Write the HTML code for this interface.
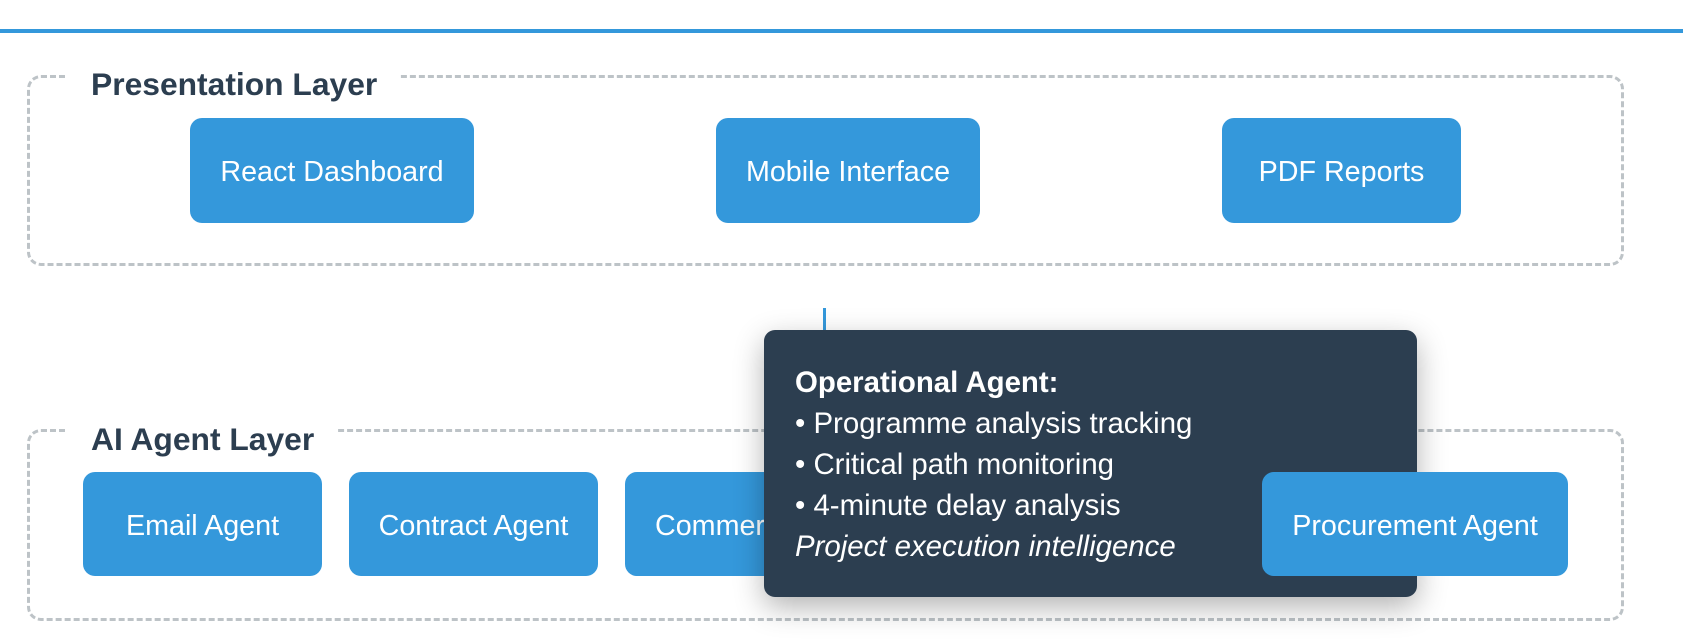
<!DOCTYPE html>
<html><head><meta charset="utf-8"><style>
body{margin:0;width:1683px;height:642px;background:#fff;position:relative;overflow:hidden;font-family:"Liberation Sans",Arial,sans-serif}
.a{position:absolute}
.layer{position:absolute;border:3px dashed #bdc3c7;border-radius:14px;box-sizing:border-box}
.title{position:absolute;background:#fff;color:#2c3e50;font-weight:bold;font-size:31.8px;line-height:36px;padding:0 22px 0 26px}
.box{position:absolute;background:#3498db;color:#fff;border-radius:12px;display:flex;align-items:center;justify-content:center;font-size:28.7px;white-space:nowrap;overflow:hidden;padding-top:4px;box-sizing:border-box}
.tip{position:absolute;left:764px;top:330px;width:653px;height:267px;background:#2c3e50;border-radius:11px;box-shadow:0 10px 30px rgba(0,0,0,0.3);color:#fff;font-size:29.4px;box-sizing:border-box}
.tip div{position:absolute;left:31px;white-space:nowrap}
</style></head><body>
<div class="a" style="left:0;top:29px;width:1683px;height:4px;background:#3498db"></div>

<div class="layer" style="left:27px;top:75px;width:1597px;height:191px"></div>
<div class="title" style="left:65px;top:66px">Presentation Layer</div>
<div class="box" style="left:190px;top:118px;width:284px;height:105px">React Dashboard</div>
<div class="box" style="left:716px;top:118px;width:264px;height:105px">Mobile Interface</div>
<div class="box" style="left:1222px;top:118px;width:239px;height:105px">PDF Reports</div>

<div class="a" style="left:823px;top:308px;width:3px;height:25px;background:#3498db"></div>

<div class="layer" style="left:27px;top:429px;width:1597px;height:192px"></div>
<div class="title" style="left:65px;top:421px">AI Agent Layer</div>
<div class="box" style="left:83px;top:472px;width:239px;height:104px">Email Agent</div>
<div class="box" style="left:349px;top:472px;width:249px;height:104px">Contract Agent</div>
<div class="box" style="left:625px;top:472px;width:260px;height:104px;justify-content:flex-start;padding-left:30px">Commercial Agent</div>

<div class="tip">
<div style="top:36px;font-weight:bold">Operational Agent:</div>
<div style="top:77px">• Programme analysis tracking</div>
<div style="top:118px">• Critical path monitoring</div>
<div style="top:159px">• 4-minute delay analysis</div>
<div style="top:200px;font-style:italic">Project execution intelligence</div>
</div>

<div class="box" style="left:1262px;top:472px;width:306px;height:104px">Procurement Agent</div>
</body></html>
